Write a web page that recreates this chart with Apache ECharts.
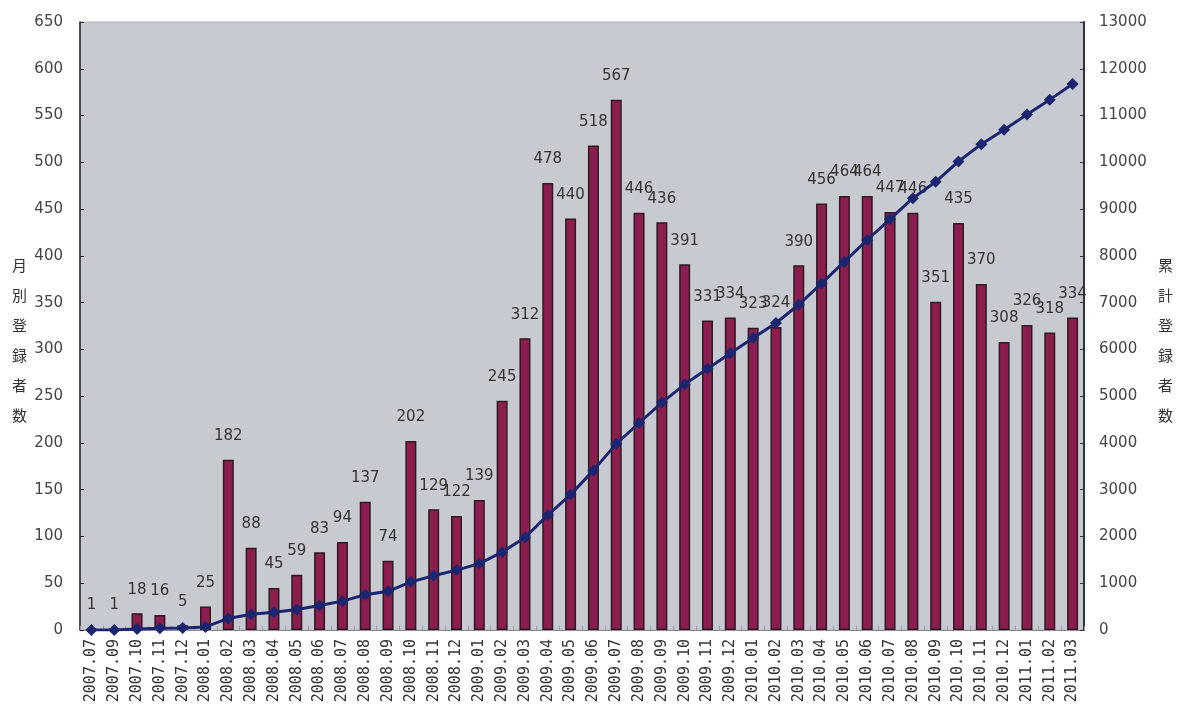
<!DOCTYPE html>
<html><head><meta charset="utf-8">
<script src="https://cdn.jsdelivr.net/npm/echarts@6/dist/echarts.min.js"></script>
<style>html,body{margin:0;padding:0;background:#fff}#c{width:1178px;height:712px}</style>
</head><body><div id="c"></div>
<script>
var categories = ['2007.07','2007.09','2007.10','2007.11','2007.12',
 '2008.01','2008.02','2008.03','2008.04','2008.05','2008.06','2008.07','2008.08','2008.09','2008.10','2008.11','2008.12',
 '2009.01','2009.02','2009.03','2009.04','2009.05','2009.06','2009.07','2009.08','2009.09','2009.10','2009.11','2009.12',
 '2010.01','2010.02','2010.03','2010.04','2010.05','2010.06','2010.07','2010.08','2010.09','2010.10','2010.11','2010.12',
 '2011.01','2011.02','2011.03'];
var monthly = [1,1,18,16,5,
 25,182,88,45,59,83,94,137,74,202,129,122,
 139,245,312,478,440,518,567,446,436,391,331,334,
 323,324,390,456,464,464,447,446,351,435,370,308,
 326,318,334];
var cumulative = [1,2,20,36,41,
 66,248,336,381,440,523,617,754,828,1030,1159,1281,
 1420,1665,1977,2455,2895,3413,3980,4426,4862,5253,5584,5918,
 6241,6565,6955,7411,7875,8339,8786,9232,9583,10018,10388,10696,
 11022,11340,11674];
var leftTitle = ['月','別','登','録','者','数'];
var rightTitle = ['累','計','登','録','者','数'];

var chart = echarts.init(document.getElementById('c'), null, {renderer:'canvas'});
var font = 'DejaVu Sans';
chart.setOption({
  animation:false,
  backgroundColor:'#ffffff',
  grid:{left:80,right:94,top:22,bottom:82,show:true,backgroundColor:'#c8cad1',borderColor:'#b0b2ba',borderWidth:1},
  xAxis:{type:'category',data:categories,boundaryGap:true,
    axisLine:{lineStyle:{color:'#8a8c94',width:1}},
    axisTick:{show:true,inside:true,length:4,lineStyle:{color:'#999'}},
    axisLabel:{rotate:90,interval:0,margin:9,fontFamily:'DejaVu Sans Mono',fontSize:15,color:'#333'}},
  yAxis:[
    {type:'value',min:0,max:650,interval:50,
     axisLine:{show:true,lineStyle:{color:'#222',width:1.5}},
     axisTick:{show:true,inside:true,length:4,lineStyle:{color:'#222'}},
     splitLine:{show:false},
     axisLabel:{margin:17,fontFamily:font,fontSize:15,color:'#444'}},
    {type:'value',min:0,max:13000,interval:1000,position:'right',
     axisLine:{show:true,lineStyle:{color:'#333',width:2}},
     axisTick:{show:true,inside:true,length:4,lineStyle:{color:'#333'}},
     splitLine:{show:false},
     axisLabel:{margin:15,fontFamily:font,fontSize:15,color:'#444',formatter:function(v){return String(v);}}}
  ],
  series:[
    {type:'bar',data:monthly,yAxisIndex:0,barWidth:11,
     itemStyle:{color:'#8b1e4e',borderColor:'#2e1a20',borderWidth:1.5},
     label:{show:true,position:'top',distance:16,fontFamily:font,fontSize:15,color:'#333'}},
    {type:'line',data:cumulative,yAxisIndex:1,symbol:'diamond',symbolSize:12,
     lineStyle:{color:'#1c2670',width:3},itemStyle:{color:'#1c2670'},z:5}
  ],
  graphic:[
    {type:'text',left:12,top:250,style:{text:leftTitle.join('\n'),font:'15px "Noto Sans CJK JP"',lineHeight:30,fill:'#333'}},
    {type:'text',left:1158,top:250,style:{text:rightTitle.join('\n'),font:'15px "Noto Sans CJK JP"',lineHeight:30,fill:'#333'}}
  ]
});
</script></body></html>
